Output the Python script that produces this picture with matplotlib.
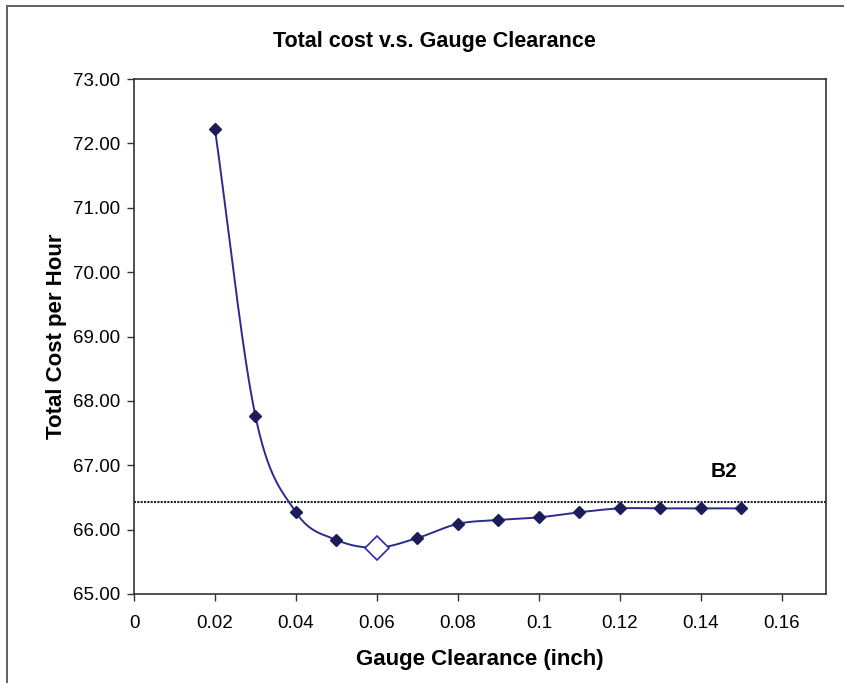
import numpy as np
import matplotlib
matplotlib.use("Agg")
import matplotlib.pyplot as plt
from matplotlib.lines import Line2D

plt.rcParams['font.family'] = ['Liberation Sans', 'DejaVu Sans']

# Gauge clearance (inch) and total cost per hour
clearance = [0.02, 0.03, 0.04, 0.05, 0.06, 0.07, 0.08, 0.09, 0.10, 0.11, 0.12, 0.13, 0.14, 0.15]
total_cost = [72.22, 67.76, 66.27, 65.84, 65.72, 65.87, 66.09, 66.15, 66.19, 66.27, 66.33, 66.33, 66.33, 66.33]
optimum_x = 0.06
optimum_y = 65.72
b2_level = 66.43
b2_label = "B2"

x_ticks = [0, 0.02, 0.04, 0.06, 0.08, 0.1, 0.12, 0.14, 0.16]
x_tick_labels = ["0", "0.02", "0.04", "0.06", "0.08", "0.1", "0.12", "0.14", "0.16"]
y_ticks = [65, 66, 67, 68, 69, 70, 71, 72, 73]


def smooth_curve(xs, ys, n=30):
    """Catmull-Rom style smoothing through the data points."""
    xs = np.asarray(xs, float)
    ys = np.asarray(ys, float)
    px = np.concatenate([[2 * xs[0] - xs[1]], xs, [2 * xs[-1] - xs[-2]]])
    py = np.concatenate([[2 * ys[0] - ys[1]], ys, [2 * ys[-1] - ys[-2]]])
    out_x, out_y = [], []
    t = np.linspace(0, 1, n, endpoint=False)
    for i in range(1, len(px) - 2):
        p0x, p1x, p2x, p3x = px[i - 1:i + 3]
        p0y, p1y, p2y, p3y = py[i - 1:i + 3]
        # cubic Bezier with control points from neighbouring tangents
        c1x = p1x + (p2x - p0x) / 6
        c1y = p1y + (p2y - p0y) / 6
        c2x = p2x - (p3x - p1x) / 6
        c2y = p2y - (p3y - p1y) / 6
        bx = (1 - t) ** 3 * p1x + 3 * (1 - t) ** 2 * t * c1x + 3 * (1 - t) * t ** 2 * c2x + t ** 3 * p2x
        by = (1 - t) ** 3 * p1y + 3 * (1 - t) ** 2 * t * c1y + 3 * (1 - t) * t ** 2 * c2y + t ** 3 * p2y
        out_x.extend(bx)
        out_y.extend(by)
    out_x.append(xs[-1])
    out_y.append(ys[-1])
    return np.array(out_x), np.array(out_y)


fig = plt.figure(figsize=(8.44, 6.83), dpi=100)

# outer chart frame (top and left edges)
fig.add_artist(Line2D([7 / 844, 7 / 844], [0, 1 - 6 / 683], transform=fig.transFigure,
                      color="#606060", lw=1.4))
fig.add_artist(Line2D([7 / 844, 1], [1 - 6 / 683, 1 - 6 / 683], transform=fig.transFigure,
                      color="#606060", lw=1.4))

ax = fig.add_axes([134 / 844, 89 / 683, 692 / 844, 515 / 683])

sx, sy = smooth_curve(clearance, total_cost)
line_color = "#2b2b8c"
marker_color = "#1c1c5a"
ax.plot(sx, sy, color=line_color, lw=1.4, zorder=3)
ax.plot(clearance, total_cost, linestyle="none", marker="D", ms=6,
        color=marker_color, zorder=4)
ax.plot([optimum_x], [optimum_y], linestyle="none", marker="D", ms=12,
        markerfacecolor="white", markeredgecolor="#2b2bb0", mew=1.2, zorder=5)

ax.axhline(b2_level, color="#222222", lw=1.5, linestyle=(0, (1, 0.6)), zorder=2)
ax.text(0.1425, b2_level + 0.48, b2_label, fontsize=15, fontweight="bold",
        ha="left", va="center")

ax.set_xlim(0, 0.1709)
ax.set_ylim(65, 73)
ax.set_xticks(x_ticks)
ax.set_xticklabels(x_tick_labels)
ax.set_yticks(y_ticks)
ax.set_yticklabels([f"{v:.2f}" for v in y_ticks])
ax.tick_params(axis="both", labelsize=13.5, direction="out", length=5, width=1,
               color="#333333")
ax.tick_params(axis="x", pad=10)
ax.tick_params(axis="y", pad=5)
for s in ax.spines.values():
    s.set_color("#333333")
    s.set_linewidth(1.2)

fig.text(434 / 844, 1 - 42 / 683, "Total cost v.s. Gauge Clearance", fontsize=15.5,
         fontweight="bold", ha="center", va="center")
ax.set_xlabel("Gauge Clearance (inch)", fontsize=16, fontweight="bold", labelpad=12)
ax.set_ylabel("Total Cost per Hour", fontsize=16, fontweight="bold", labelpad=4)

fig.savefig("out.png", dpi=100, facecolor="white")
